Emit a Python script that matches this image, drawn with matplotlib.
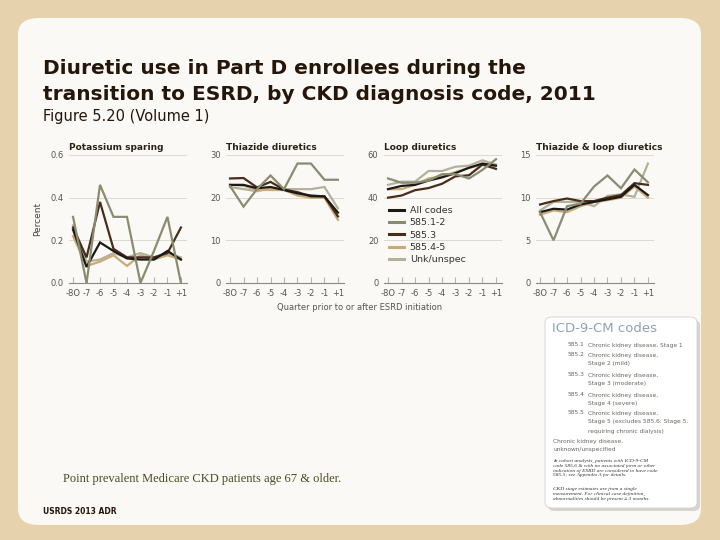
import matplotlib.pyplot as plt
from matplotlib.patches import FancyBboxPatch
from matplotlib.lines import Line2D

# x categories (quarter prior to / after ESRD)
quarters = ['-8O', '-7', '-6', '-5', '-4', '-3', '-2', '-1', '+1']
series_names = ['All codes', '585.1-2', '585.3', '585.4-5', 'Unk/unspec']

# Potassium sparing
ks_all = [0.25, 0.075, 0.19, 0.15, 0.115, 0.11, 0.11, 0.15, 0.11]
ks_12 = [0.31, 0.0, 0.46, 0.31, 0.31, 0.0, 0.15, 0.31, 0.0]
ks_3 = [0.26, 0.12, 0.38, 0.16, 0.12, 0.12, 0.12, 0.14, 0.26]
ks_45 = [0.22, 0.08, 0.10, 0.13, 0.08, 0.13, 0.11, 0.13, 0.11]
ks_unk = [0.27, 0.10, 0.11, 0.14, 0.12, 0.14, 0.12, 0.14, 0.12]

# Thiazide diuretics
th_all = [23.0, 23.0, 22.2, 22.5, 21.8, 21.0, 20.5, 20.3, 16.5]
th_12 = [22.7, 17.9, 22.0, 25.2, 22.0, 28.0, 28.0, 24.2, 24.2]
th_3 = [24.5, 24.6, 22.4, 23.7, 21.9, 21.3, 20.3, 20.3, 15.6]
th_45 = [23.0, 22.8, 21.8, 21.8, 21.8, 20.5, 20.0, 20.0, 14.8]
th_unk = [22.5, 22.0, 21.5, 22.2, 22.0, 22.0, 22.0, 22.5, 17.5]

# Loop diuretics
lp_all = [44, 45.5, 46, 48, 49.5, 51.5, 54, 56, 55]
lp_12 = [49, 47, 47, 48, 51, 51, 49, 53, 58]
lp_3 = [40, 41, 43.5, 44.5, 46.5, 50, 50.5, 55.5, 53.5]
lp_45 = [44, 44, 46, 49, 50, 52, 54, 55.5, 55]
lp_unk = [46, 47.5, 47.5, 52.5, 52.5, 54.5, 55, 57.5, 55.5]

# Thiazide & loop diuretics
tl_all = [8.3, 8.7, 8.6, 9.2, 9.5, 9.8, 10.1, 11.5, 10.3]
tl_12 = [8.3, 5.0, 9.0, 9.3, 11.3, 12.6, 11.1, 13.3, 11.8]
tl_3 = [9.2, 9.6, 9.9, 9.6, 9.6, 10.0, 10.3, 11.7, 11.5]
tl_45 = [8.0, 8.5, 8.3, 9.0, 9.5, 9.7, 10.0, 11.3, 10.0]
tl_unk = [8.5, 9.5, 9.5, 9.5, 9.0, 10.2, 10.4, 10.1, 14.0]

panel_titles = ['Potassium sparing', 'Thiazide diuretics', 'Loop diuretics',
                'Thiazide & loop diuretics']
panel_ticks = [[0.0, 0.2, 0.4, 0.6], [0, 10, 20, 30], [0, 20, 40, 60], [0, 5, 10, 15]]
panel_data = [
    [ks_all, ks_12, ks_3, ks_45, ks_unk],
    [th_all, th_12, th_3, th_45, th_unk],
    [lp_all, lp_12, lp_3, lp_45, lp_unk],
    [tl_all, tl_12, tl_3, tl_45, tl_unk],
]

colors = {'All codes': '#1c1a17', '585.1-2': '#8a8c72', '585.3': '#4a2c1c',
          '585.4-5': '#c9ab78', 'Unk/unspec': '#b3b19c'}
draw_order = ['Unk/unspec', '585.4-5', '585.3', 'All codes', '585.1-2']
narrow = ['Liberation Sans Narrow', 'DejaVu Sans']

W, H = 720, 540
fig = plt.figure(figsize=(7.2, 5.4), dpi=100, facecolor='#e6d3ae')

def fx(px):
    return px / W

def fy(py):
    return 1 - py / H

# slide panel
panel = FancyBboxPatch((fx(18), fy(525)), fx(701) - fx(18), fy(18) - fy(525),
                       boxstyle='round,pad=0,rounding_size=0.03',
                       transform=fig.transFigure, facecolor='#fbf9f5',
                       edgecolor='none', zorder=-10)
fig.patches.append(panel)

fig.text(fx(43), fy(69), 'Diuretic use in Part D enrollees during the',
         fontsize=14.5, fontweight='bold', color='#24160a', va='center',
         family='DejaVu Sans')
fig.text(fx(43), fy(95), 'transition to ESRD, by CKD diagnosis code, 2011',
         fontsize=14.5, fontweight='bold', color='#24160a', va='center',
         family='DejaVu Sans')
fig.text(fx(43), fy(116), 'Figure 5.20 (Volume 1)', fontsize=10.5,
         color='#24160a', va='center', family='DejaVu Sans')

lefts = [69, 226, 384, 536]
for i, left in enumerate(lefts):
    ax = fig.add_axes([fx(left), fy(283), 118 / W, 128 / H])
    ax.set_facecolor('none')
    data = dict(zip(series_names, panel_data[i]))
    for name in draw_order:
        ax.plot(range(len(quarters)), data[name], color=colors[name], lw=1.6,
                solid_joinstyle='miter', zorder=3)
    ticks = panel_ticks[i]
    ax.set_ylim(ticks[0], ticks[-1])
    ax.set_xlim(-0.3, 8.45)
    ax.set_yticks(ticks)
    if i == 0:
        ax.set_yticklabels(['%.1f' % t for t in ticks])
    for t in ticks[1:]:
        ax.axhline(t, color='#dcdbd2', lw=0.7, zorder=1)
    for s in ['top', 'right', 'left']:
        ax.spines[s].set_visible(False)
    ax.spines['bottom'].set_color('#8a8a84')
    ax.spines['bottom'].set_linewidth(0.8)
    ax.set_xticks(range(len(quarters)))
    ax.set_xticklabels(quarters)
    ax.tick_params(axis='x', direction='in', length=4, color='#b5b5ae',
                   labelsize=6, labelcolor='#555550', pad=4)
    ax.tick_params(axis='y', length=0, labelsize=6, labelcolor='#555550', pad=4)
    for lab in ax.get_xticklabels() + ax.get_yticklabels():
        lab.set_family(narrow)
    ax.text(0.0, 1.02, panel_titles[i], transform=ax.transAxes, fontsize=6.5,
            fontweight='bold', color='#2a2218', va='bottom', ha='left',
            family=narrow)
    if i == 0:
        ax.set_ylabel('Percent', fontsize=6.5, color='#444440', labelpad=6,
                      family=narrow)
    if i == 2:
        handles = [Line2D([], [], color=colors[n], lw=2.2) for n in series_names]
        ax.legend(handles, series_names, loc='lower left',
                  bbox_to_anchor=(-0.03, 0.08), frameon=False, fontsize=6.8,
                  handlelength=1.6, handletextpad=0.6, labelspacing=0.35,
                  labelcolor='#333330', prop={'family': narrow, 'size': 6.8})

fig.text(fx(360), fy(308), 'Quarter prior to or after ESRD initiation',
         fontsize=6, color='#555550', ha='center', va='center', family=narrow)

# ICD-9-CM box
shadow = FancyBboxPatch((fx(548), fy(511)), fx(697) - fx(545), fy(317) - fy(508),
                        boxstyle='round,pad=0,rounding_size=0.01',
                        transform=fig.transFigure, facecolor='#d8d4cc',
                        edgecolor='none', zorder=1)
box = FancyBboxPatch((fx(545), fy(508)), fx(697) - fx(545), fy(317) - fy(508),
                     boxstyle='round,pad=0,rounding_size=0.01',
                     transform=fig.transFigure, facecolor='white',
                     edgecolor='#d0d0cc', lw=0.6, zorder=2)
fig.patches.extend([shadow, box])
fig.text(fx(552), fy(328), 'ICD-9-CM codes', fontsize=9.5, color='#8ea2b2',
         va='center', zorder=3)

codes = ['585.1', '585.2', '', '585.3', '', '585.4', '', '585.5', '', '']
descs = ['Chronic kidney disease, Stage 1', 'Chronic kidney disease,',
         'Stage 2 (mild)', 'Chronic kidney disease,', 'Stage 3 (moderate)',
         'Chronic kidney disease,', 'Stage 4 (severe)', 'Chronic kidney disease,',
         'Stage 5 (excludes 585.6: Stage 5,', 'requiring chronic dialysis)']
line_y = [345, 355, 364, 375, 384, 395, 404, 413, 422, 431]
for c, d, y in zip(codes, descs, line_y):
    fig.text(fx(568), fy(y), c, fontsize=4.2, color='#666660', va='center', zorder=3)
    fig.text(fx(588), fy(y), d, fontsize=4.2, color='#666660', va='center', zorder=3)
fig.text(fx(553), fy(441), 'Chronic kidney disease,', fontsize=4.2,
         color='#666660', va='center', zorder=3)
fig.text(fx(553), fy(450), 'unknown/unspecified', fontsize=4.2,
         color='#666660', va='center', zorder=3)
note1 = ('In cohort analysis, patients with ICD-9-CM\n'
         'code 585.6 & with no associated form or other\n'
         'indication of ESRD are considered to have code\n'
         '585.5; see Appendix A for details.')
note2 = ('CKD stage estimates are from a single\n'
         'measurement. For clinical case definition,\n'
         'abnormalities should be present \u2265 3 months.')
fig.text(fx(553), fy(459), note1, fontsize=3.9, style='italic', color='#333330',
         va='top', linespacing=1.25, family='Liberation Serif', zorder=3)
fig.text(fx(553), fy(487), note2, fontsize=3.9, style='italic', color='#333330',
         va='top', linespacing=1.25, family='Liberation Serif', zorder=3)

fig.text(fx(63), fy(479), 'Point prevalent Medicare CKD patients age 67 & older.',
         fontsize=9, color='#4a4a26', va='center', family='Liberation Serif')
fig.text(fx(43), fy(512), 'USRDS 2013 ADR', fontsize=5.5, fontweight='bold',
         color='#24160a', va='center')

fig.savefig('out.png', dpi=100, facecolor=fig.get_facecolor())
